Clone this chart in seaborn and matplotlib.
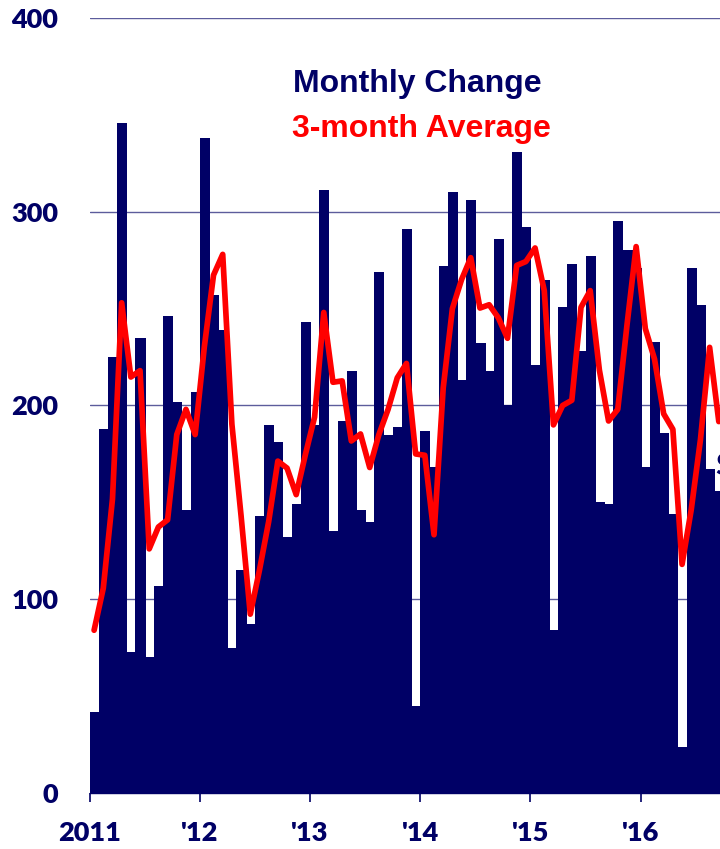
import numpy as np
import pandas as pd
import matplotlib
matplotlib.use("Agg")
import matplotlib.pyplot as plt
import seaborn as sns

# ---- data ----
year_labels = ["2011", "'12", "'13", "'14", "'15", "'16"]
y_tick_values = [0, 100, 200, 300, 400]
monthly_change = [42, 188, 225, 346, 73, 235, 70, 107, 246, 202, 146, 207,
                  338, 257, 239, 75, 115, 87, 143, 190, 181, 132, 149, 243,
                  190, 311, 135, 192, 218, 146, 140, 269, 185, 189, 291, 45,
                  187, 168, 272, 310, 213, 306, 232, 218, 286, 200, 331, 292,
                  221, 265, 84, 251, 273, 228, 277, 150, 149, 295, 280, 271,
                  168, 233, 186, 144, 24, 271, 252, 167, 156]
three_month_avg = [84.0, 105.7, 151.7, 253.0, 214.7, 218.0, 126.0, 137.3, 141.0, 185.0, 198.0, 185.0,
                   230.3, 267.3, 278.0, 190.3, 143.0, 92.3, 115.0, 140.0, 171.3, 167.7, 154.0, 174.7,
                   194.0, 248.0, 212.0, 212.7, 181.7, 185.3, 168.0, 185.0, 198.0, 214.3, 221.7, 175.0,
                   174.3, 133.3, 209.0, 250.0, 265.0, 276.3, 250.3, 252.0, 245.3, 234.7, 272.3, 274.3,
                   281.3, 259.3, 190.0, 200.0, 202.7, 250.7, 259.3, 218.3, 192.0, 198.0, 241.3, 282.0,
                   239.7, 224.0, 195.7, 187.7, 118.0, 146.3, 182.3, 230.0, 191.7]
month_index = list(range(len(monthly_change)))

NAVY = "#000066"
RED = "#ff0000"
GRID = "#5c5c9c"

sns.set_theme(style="white")
plt.rcParams['font.family'] = ['Lato', 'DejaVu Sans']

W, H = 720, 849
fig = plt.figure(figsize=(W / 100, H / 100), dpi=100)
left_px, top_px, bottom_px = 89.5, 18, 793
px_per_month = 9.187
n_slots = 70
ax = fig.add_axes([left_px / W, (H - bottom_px) / H,
                   n_slots * px_per_month / W, (bottom_px - top_px) / H])

df = pd.DataFrame({"month": month_index, "change": monthly_change, "avg": three_month_avg})
sns.barplot(data=df, x="month", y="change", native_scale=True, width=1.0,
            color=NAVY, saturation=1, edgecolor=NAVY, linewidth=0.7,
            errorbar=None, ax=ax)
for p in ax.patches:
    p.set_antialiased(False)
sns.lineplot(data=df, x="month", y="avg", color=RED, linewidth=4.1, ax=ax)

ax.set_xlim(-0.5, n_slots - 0.5)
ax.set_ylim(0, 400)
ax.set_xlabel("")
ax.set_ylabel("")

ax.set_yticks(y_tick_values)
ax.set_yticklabels([str(v) for v in y_tick_values])
ax.set_xticks([-0.5 + 12 * k for k in range(len(year_labels))])
ax.set_xticklabels(year_labels)

ax.yaxis.grid(True, color=GRID, linewidth=1.0)
ax.xaxis.grid(False)
ax.set_axisbelow(True)

for s in ["left", "top", "right"]:
    ax.spines[s].set_visible(False)
ax.spines["bottom"].set_color(NAVY)
ax.spines["bottom"].set_linewidth(1.0)

ax.tick_params(axis="y", length=0, pad=22.5, labelsize=19.5, labelcolor=NAVY)
ax.tick_params(axis="x", length=6.5, width=1.2, color=NAVY, direction="out",
               pad=14, labelsize=19.5, labelcolor=NAVY, bottom=True)
for lab in ax.get_xticklabels() + ax.get_yticklabels():
    lab.set_fontweight("heavy")

fig.text(293 / W, 1 - 92 / H, "Monthly Change", family=["Liberation Sans", "DejaVu Sans"],
         weight="bold", size=23, color=NAVY, ha="left", va="baseline")
fig.text(292 / W, 1 - 137 / H, "3-month Average", family=["Liberation Sans", "DejaVu Sans"],
         weight="bold", size=23, color=RED, ha="left", va="baseline")
fig.text(715 / W, 1 - 466 / H, "Sep", weight="bold", size=22, color=NAVY,
         ha="left", va="center")

fig.savefig("out.png", dpi=100)
